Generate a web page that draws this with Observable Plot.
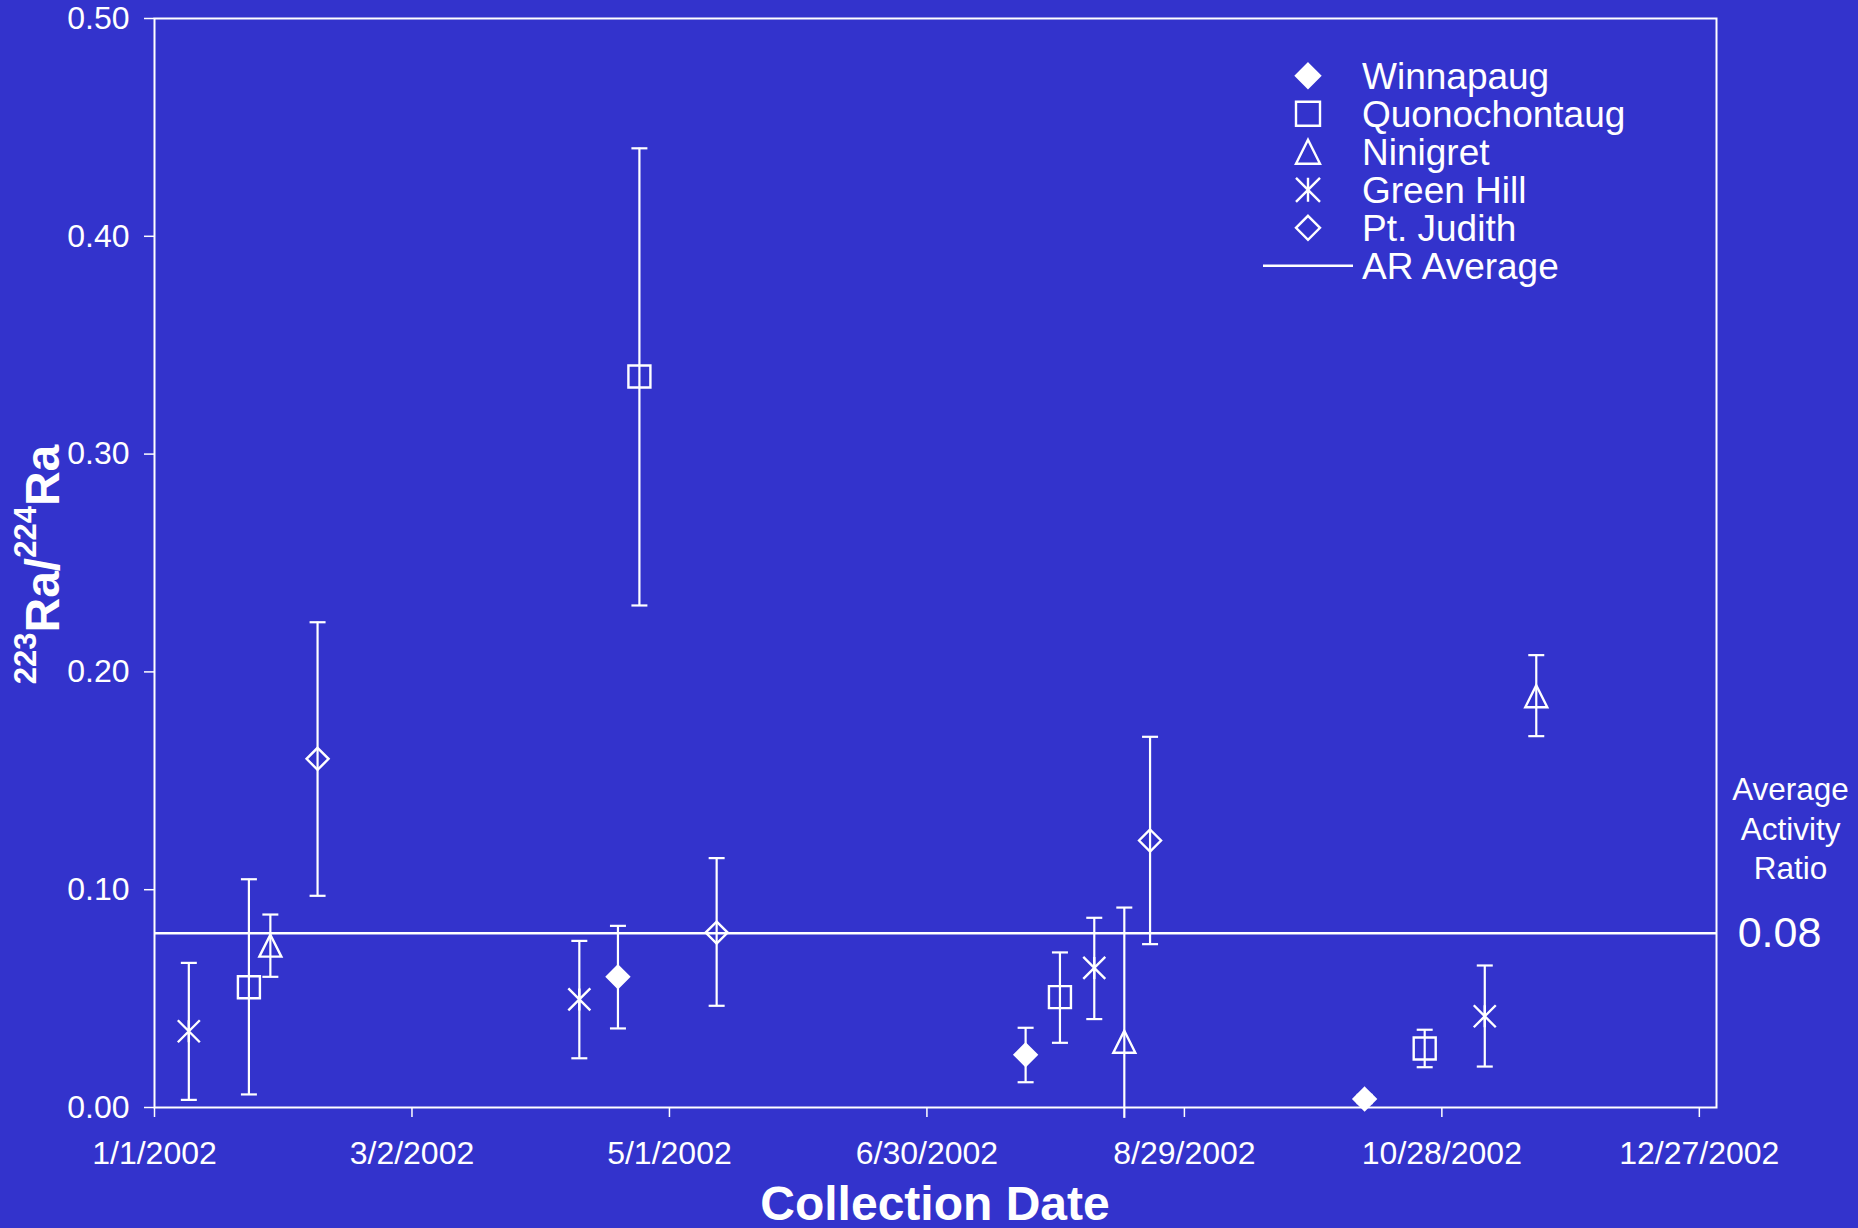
<!DOCTYPE html>
<html>
<head>
<meta charset="utf-8">
<script src="https://cdn.jsdelivr.net/npm/d3@7"></script>
<script src="https://cdn.jsdelivr.net/npm/@observablehq/plot@0.6"></script>
<style>
  html, body { margin: 0; padding: 0; background: #3333CC; overflow: hidden; }
  #chart svg { display: block; }
</style>
</head>
<body>
<div id="chart"></div>
<script>
// ---------------- data ----------------
const sites = ["Winnapaug", "Quonochontaug", "Ninigret", "Green Hill", "Pt. Judith"];

const winnapaugDates = ["2002-04-19", "2002-07-23", "2002-10-10"];
const winnapaugRatio = [0.0600, 0.0242, 0.0039];
const winnapaugLow   = [0.0363, 0.0116, 0.0020];
const winnapaugHigh  = [0.0834, 0.0366, 0.0058];

const quonochontaugDates = ["2002-01-23", "2002-04-24", "2002-07-31", "2002-10-24"];
const quonochontaugRatio = [0.0552, 0.3356, 0.0507, 0.0271];
const quonochontaugLow   = [0.0060, 0.2305, 0.0297, 0.0185];
const quonochontaugHigh  = [0.1048, 0.4404, 0.0712, 0.0357];

const ninigretDates = ["2002-01-28", "2002-08-15", "2002-11-19"];
const ninigretRatio = [0.0743, 0.0302, 0.1888];
const ninigretLow   = [0.0600, -0.0050, 0.1705];
const ninigretHigh  = [0.0886, 0.0918, 0.2077];

const greenHillDates = ["2002-01-09", "2002-04-10", "2002-08-08", "2002-11-07"];
const greenHillRatio = [0.0350, 0.0496, 0.0641, 0.0419];
const greenHillLow   = [0.0035, 0.0226, 0.0406, 0.0188];
const greenHillHigh  = [0.0664, 0.0765, 0.0871, 0.0652];

const ptJudithDates = ["2002-02-08", "2002-05-12", "2002-08-21"];
const ptJudithRatio = [0.1601, 0.0803, 0.1226];
const ptJudithLow   = [0.0972, 0.0467, 0.0750];
const ptJudithHigh  = [0.2228, 0.1145, 0.1702];

const arAverage = 0.08;
const yTicks = [0, 0.1, 0.2, 0.3, 0.4, 0.5];
const xTickDates = ["2002-01-01", "2002-03-02", "2002-05-01", "2002-06-30", "2002-08-29", "2002-10-28", "2002-12-27"];
const xDomain = ["2002-01-01", "2002-12-31"];

// ---------------- build table ----------------
const parse = d3.utcParse("%Y-%m-%d");
function rowsFor(site, dates, ratio, low, high) {
  return dates.map((d, i) => ({site, date: parse(d), ratio: ratio[i], low: low[i], high: high[i]}));
}
const data = [
  ...rowsFor("Winnapaug", winnapaugDates, winnapaugRatio, winnapaugLow, winnapaugHigh),
  ...rowsFor("Quonochontaug", quonochontaugDates, quonochontaugRatio, quonochontaugLow, quonochontaugHigh),
  ...rowsFor("Ninigret", ninigretDates, ninigretRatio, ninigretLow, ninigretHigh),
  ...rowsFor("Green Hill", greenHillDates, greenHillRatio, greenHillLow, greenHillHigh),
  ...rowsFor("Pt. Judith", ptJudithDates, ptJudithRatio, ptJudithLow, ptJudithHigh)
];
const caps = data.flatMap(d => [d.low, d.high].filter(v => v >= 0).map(v => ({date: d.date, v})));

// ---------------- symbols ----------------
const half = size => Math.sqrt(size / Math.PI);
const symSquare = {draw(c, s) { const h = half(s); c.rect(-h, -h, 2 * h, 2 * h); }};
const symDiamond = {draw(c, s) { const h = half(s); c.moveTo(0, -h); c.lineTo(h, 0); c.lineTo(0, h); c.lineTo(-h, 0); c.closePath(); }};
const symTriangle = {draw(c, s) { const h = half(s); c.moveTo(0, -h); c.lineTo(h, h); c.lineTo(-h, h); c.closePath(); }};
const symStar = {draw(c, s) { const h = half(s); c.moveTo(-h, -h); c.lineTo(h, h); c.moveTo(h, -h); c.lineTo(-h, h); c.moveTo(0, -h); c.lineTo(0, h); }};
const symCap = {draw(c, s) { const h = half(s); c.moveTo(-h, 0); c.lineTo(h, 0); }};

const symbolFor = {"Winnapaug": symDiamond, "Quonochontaug": symSquare, "Ninigret": symTriangle, "Green Hill": symStar, "Pt. Judith": symDiamond};
const filledFor = {"Winnapaug": true, "Quonochontaug": false, "Ninigret": false, "Green Hill": false, "Pt. Judith": false};

const FONT = "'Liberation Sans', Arial, Helvetica, sans-serif";

const chart = Plot.plot({
  width: 1858,
  height: 1228,
  marginLeft: 154,
  marginRight: 142,
  marginTop: 18,
  marginBottom: 121,
  style: {background: "#3333CC", color: "white", fontFamily: FONT, overflow: "visible"},
  x: {type: "utc", domain: xDomain.map(parse)},
  y: {domain: [0, 0.5]},
  marks: [
    Plot.ruleY([arAverage], {stroke: "white", strokeWidth: 2.5}),
    Plot.ruleX(data, {x: "date", y1: "low", y2: "high", stroke: "white", strokeWidth: 2.2}),
    Plot.dot(caps, {x: "date", y: "v", symbol: symCap, r: 8, stroke: "white", strokeWidth: 2.2, fill: "none"}),
    ...sites.map(site => Plot.dot(data.filter(d => d.site === site), {
      x: "date", y: "ratio", symbol: symbolFor[site], r: 11,
      stroke: "white", strokeWidth: 2.4,
      fill: filledFor[site] ? "white" : "none"
    })),
    Plot.frame({stroke: "white", strokeWidth: 2}),
    Plot.axisY(yTicks, {tickFormat: d3.format(".2f"), tickSize: 10, tickPadding: 15, fontSize: 32, label: null, strokeWidth: 1.5}),
    Plot.axisX(xTickDates.map(parse), {tickFormat: d3.utcFormat("%-m/%-d/%Y"), tickSize: 10, tickPadding: 24, fontSize: 32, label: null, strokeWidth: 1.5}),
    Plot.text([arAverage], {y: d => d, frameAnchor: "right", dx: 63, text: d => d.toFixed(2), fontSize: 43, fill: "white", textAnchor: "middle", lineAnchor: "middle"}),
    Plot.text([arAverage], {y: d => d, frameAnchor: "right", dx: 74, dy: -106, text: () => "Average\nActivity\nRatio", fontSize: 31.5, lineHeight: 1.254, fill: "white", textAnchor: "middle", lineAnchor: "middle"})
  ]
});

document.getElementById("chart").appendChild(chart);

// ---------------- titles and legend ----------------
const svg = d3.select(chart);

// y-axis title with superscripts
const yt = svg.append("text")
  .attr("transform", "translate(59,564.5) rotate(-90)")
  .attr("text-anchor", "middle")
  .attr("fill", "white")
  .attr("font-family", FONT)
  .attr("font-weight", "bold");
yt.append("tspan").attr("font-size", 31).attr("dy", -23).text("223");
yt.append("tspan").attr("font-size", 48).attr("dy", 23).text("Ra/");
yt.append("tspan").attr("font-size", 31).attr("dy", -23).text("224");
yt.append("tspan").attr("font-size", 48).attr("dy", 23).text("Ra");

// x-axis title
svg.append("text")
  .attr("x", 935).attr("y", 1220)
  .attr("text-anchor", "middle")
  .attr("fill", "white")
  .attr("font-family", FONT)
  .attr("font-weight", "bold")
  .attr("font-size", 48)
  .text("Collection Date");

// legend
const legend = svg.append("g")
  .attr("font-family", FONT).attr("font-size", 37).attr("fill", "white")
  .attr("text-anchor", "start");
const rowY0 = 75.8, rowStep = 38;
sites.forEach((site, i) => {
  const y = rowY0 + i * rowStep;
  legend.append("path")
    .attr("transform", `translate(1308,${y})`)
    .attr("d", d3.symbol(symbolFor[site], Math.PI * 12 * 12)())
    .attr("stroke", "white").attr("stroke-width", 2.4)
    .attr("fill", filledFor[site] ? "white" : "none");
  legend.append("text").attr("x", 1362).attr("y", y + 13.2).attr("text-anchor", "start").text(site);
});
{
  const y = rowY0 + 5 * rowStep;
  legend.append("line").attr("x1", 1263).attr("x2", 1353).attr("y1", y).attr("y2", y)
    .attr("stroke", "white").attr("stroke-width", 2.5);
  legend.append("text").attr("x", 1362).attr("y", y + 13.2).attr("text-anchor", "start").text("AR Average");
}
</script>
</body>
</html>
